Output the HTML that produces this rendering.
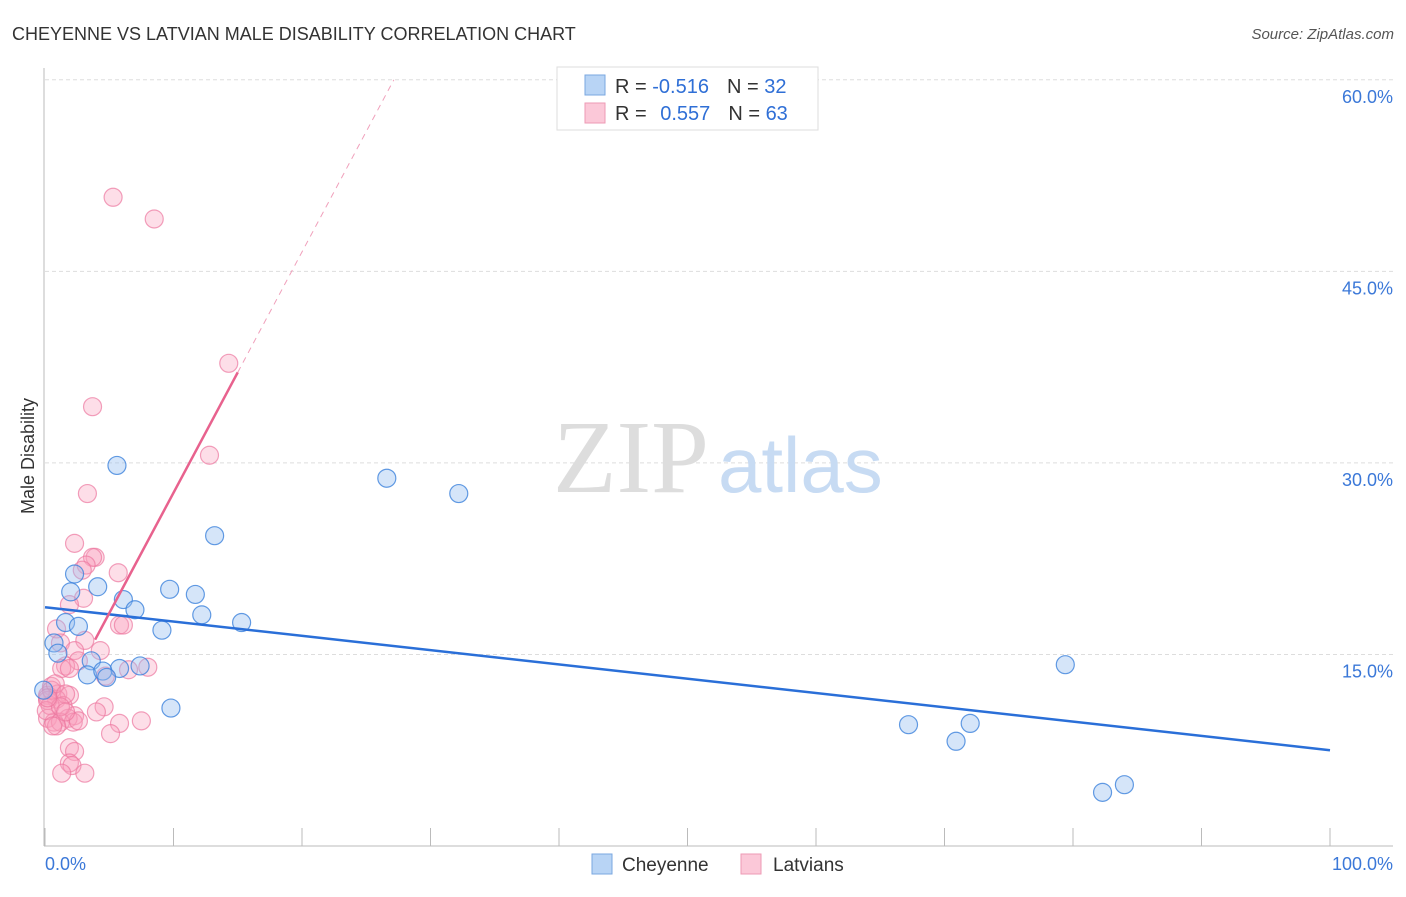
<!DOCTYPE html>
<html><head><meta charset="utf-8"><style>
body{margin:0;background:#fff;font-family:"Liberation Sans",sans-serif}
svg text{font-family:"Liberation Sans",sans-serif}
</style></head><body>
<svg width="1406" height="892" viewBox="0 0 1406 892">
<text x="12" y="40" font-size="18" fill="#333">CHEYENNE VS LATVIAN MALE DISABILITY CORRELATION CHART</text>
<text x="1394" y="39" font-size="15" fill="#555" font-style="italic" text-anchor="end">Source: ZipAtlas.com</text>
<g id="grid"></g>
<line x1="44" y1="68" x2="44" y2="846" stroke="#bbb"/>
<line x1="44" y1="846" x2="1393" y2="846" stroke="#bbb"/>
<text x="34" y="456" font-size="18" fill="#333" text-anchor="middle" transform="rotate(-90 34 456)">Male Disability</text>
<text x="553" y="492" font-size="104" fill="#ddd" style="font-family:'Liberation Serif',serif">ZIP</text>
<text x="718" y="492" font-size="78" fill="#c7dbf3">atlas</text>
<g id="marks"></g>
<g>
<rect x="557" y="67" width="261" height="63" fill="#fff" stroke="#ddd"/>
<rect x="585" y="75" width="20" height="20" fill="#b8d4f5" stroke="#7aa7e0"/>
<rect x="585" y="103" width="20" height="20" fill="#fbc8d8" stroke="#ee9ab4"/>
<text x="615" y="93" font-size="20" fill="#333">R = <tspan fill="#2f6fd6">-0.516</tspan><tspan dx="18">N = </tspan><tspan fill="#2f6fd6">32</tspan></text>
<text x="615" y="120" font-size="20" fill="#333">R = <tspan fill="#2f6fd6" dx="8">0.557</tspan><tspan dx="18">N = </tspan><tspan fill="#2f6fd6">63</tspan></text>
</g>
<rect x="592" y="854" width="20" height="20" fill="#b8d4f5" stroke="#7aa7e0"/>
<text x="622" y="871" font-size="19" fill="#333">Cheyenne</text>
<rect x="741" y="854" width="20" height="20" fill="#fbc8d8" stroke="#ee9ab4"/>
<text x="773" y="871" font-size="19" fill="#333">Latvians</text>
</svg>
<script>
const yTicks=[15,30,45,60];
const yTickLabels=["15.0%","30.0%","45.0%","60.0%"];
const xTicks=[0,10,20,30,40,50,60,70,80,90,100];
const cheyX=[5.6,26.6,32.2,13.2,2.3,4.1,2.0,9.7,11.7,6.1,7.0,12.2,15.3,1.6,2.6,9.1,0.7,1.0,3.6,5.8,7.4,3.3,4.5,4.8,9.8,-0.1,79.4,67.2,72.0,70.9,82.3,84.0];
const cheyY=[29.8,28.8,27.6,24.3,21.3,20.3,19.9,20.1,19.7,19.3,18.5,18.1,17.5,17.5,17.2,16.9,15.9,15.1,14.5,13.9,14.1,13.4,13.7,13.2,10.8,12.2,14.2,9.5,9.6,8.2,4.2,4.8];
const latX=[5.3,8.5,14.3,3.7,12.8,3.3,2.3,3.9,3.7,3.2,2.9,5.7,3.0,1.9,5.8,6.1,0.9,3.1,1.2,2.3,4.3,2.6,1.6,1.3,1.9,8.0,6.5,4.7,0.5,1.0,1.9,0.2,0.9,1.4,4.6,4.0,2.3,1.8,0.2,0.7,1.2,2.2,2.6,5.8,7.5,5.1,0.9,1.9,2.3,1.9,2.1,1.3,3.1,0.2,0.4,0.1,0.5,0.8,1.6,1.2,1.6,0.2,0.6];
const latY=[50.8,49.1,37.8,34.4,30.6,27.6,23.7,22.6,22.6,22.0,21.6,21.4,19.4,18.9,17.3,17.3,17.0,16.1,15.9,15.3,15.3,14.5,14.1,13.9,13.9,14.0,13.8,13.3,12.5,11.9,11.8,11.8,11.5,11.0,10.9,10.5,10.2,10.0,10.0,9.7,9.7,9.7,9.8,9.6,9.8,8.8,9.4,7.7,7.4,6.5,6.3,5.7,5.7,11.4,11.0,10.6,12.2,12.7,11.9,10.9,10.5,11.6,9.4];
const cheyLine=[18.7,7.5];
const latLine=[8.8,1.886];
const X=v=>45+v*12.85, Y=v=>846-v*12.77;
const NS='http://www.w3.org/2000/svg';
const grid=document.getElementById('grid'), marks=document.getElementById('marks');
function mk(tag,attrs,parent){const e=document.createElementNS(NS,tag);for(const k in attrs)e.setAttribute(k,attrs[k]);parent.appendChild(e);return e;}
yTicks.forEach((t,i)=>{
 const l=mk('line',{x1:45,x2:1393,y1:Y(t),y2:Y(t),stroke:'#ddd','stroke-dasharray':'4,3'},grid);
 
 
 const tx=mk('text',{x:1393,y:Y(t)+23,'font-size':18,fill:'#3b78d8','text-anchor':'end'},grid);
 tx.textContent=yTickLabels[i];
 
 
});
xTicks.forEach(t=>{
 const l=mk('line',{x1:X(t),x2:X(t),y1:828,y2:846,stroke:'#bbb'},grid);
 
 
});
[[0,'0.0%','start',45],[100,'100.0%','end',1393]].forEach(a=>{
 const tx=mk('text',{x:a[3],y:870,'font-size':18,fill:'#3b78d8','text-anchor':a[2]},grid);
 tx.textContent=a[1];
 
 
});
latX.forEach((x,i)=>{
 const c=mk('circle',{cx:X(x),cy:Y(latY[i]),r:9,fill:'rgba(248,160,190,0.35)',stroke:'rgba(236,120,160,0.7)','stroke-width':1.2},marks);
 
 
});
cheyX.forEach((x,i)=>{
 const c=mk('circle',{cx:X(x),cy:Y(cheyY[i]),r:9,fill:'rgba(150,190,240,0.4)',stroke:'rgba(60,130,220,0.8)','stroke-width':1.2},marks);
 
 
});
const bl=mk('line',{x1:X(0),y1:Y(cheyLine[0]),x2:X(100),y2:Y(cheyLine[1]),stroke:'#2a6fd8','stroke-width':2.5},marks);


const lf=x=>latLine[0]+latLine[1]*x;
const xEnd=(60-latLine[0])/latLine[1];
const pl=mk('line',{x1:X(3.9),y1:Y(lf(3.9)),x2:X(15),y2:Y(lf(15)),stroke:'#e8628e','stroke-width':2.5},marks);


const pd=mk('line',{x1:X(15),y1:Y(lf(15)),x2:X(xEnd),y2:Y(60),stroke:'#f0a0bb','stroke-width':1,'stroke-dasharray':'6,5'},marks);


</script>
</body></html>
